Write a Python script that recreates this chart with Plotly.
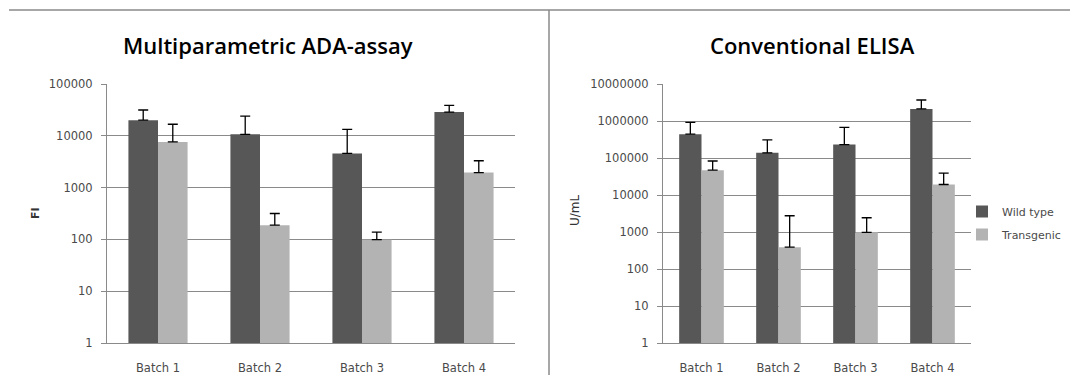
import plotly.graph_objects as go

categories = ["Batch 1", "Batch 2", "Batch 3", "Batch 4"]

# Multiparametric ADA-assay (FI)
ada_wild = [20000, 10700, 4560, 28700]
ada_wild_err = [11500, 13300, 8700, 10000]
ada_trans = [7600, 188, 99, 1950]
ada_trans_err = [9100, 128, 39, 1350]

# Conventional ELISA (U/mL)
elisa_wild = [440000, 138000, 231000, 2120000]
elisa_wild_err = [480000, 172000, 444000, 1580000]
elisa_trans = [47000, 390, 980, 19200]
elisa_trans_err = [36000, 2360, 1450, 19800]

series_names = ["Wild type", "Transgenic"]
left_ticks = [1, 10, 100, 1000, 10000, 100000]
right_ticks = [1, 10, 100, 1000, 10000, 100000, 1000000, 10000000]

DARK = "#575757"
LIGHT = "#b3b3b3"
GRID = "#8a8a8a"
TICKFONT = dict(family="DejaVu Sans", size=11.5, color="#4a4a4a")

OFF = 8
W, H = 1078 - 2 * OFF, 383 - 2 * OFF
def px(x):
    return (x - OFF) / W
def py(y):
    return 1 - (y - OFF) / H

fig = go.Figure()

def add_bars(xaxis, yaxis, wild, wild_err, trans, trans_err, show):
    for name, vals, errs, col in [(series_names[0], wild, wild_err, DARK),
                                  (series_names[1], trans, trans_err, LIGHT)]:
        fig.add_trace(go.Bar(
            x=categories, y=vals, name=name, marker=dict(color=col, line=dict(width=0)),
            error_y=dict(type="data", array=errs, arrayminus=[0]*len(errs), symmetric=False,
                         color="black", thickness=1.3, width=5),
            xaxis=xaxis, yaxis=yaxis, showlegend=show, legendgroup=name,
            offsetgroup=name,
        ))

add_bars("x", "y", ada_wild, ada_wild_err, ada_trans, ada_trans_err, False)
add_bars("x2", "y2", elisa_wild, elisa_wild_err, elisa_trans, elisa_trans_err, True)

ydom = [py(343), py(84)]
common_x = dict(showline=True, linecolor=GRID, linewidth=1, ticks="", showgrid=False,
                tickfont=TICKFONT, ticklabelstandoff=14, fixedrange=True, automargin=False)
common_y = dict(type="log", showline=True, linecolor=GRID, linewidth=1, ticks="outside",
                ticklen=5, tickcolor=GRID, showgrid=True, gridcolor=GRID, gridwidth=1,
                tickfont=TICKFONT, tickformat="d", zeroline=False, ticklabelstandoff=6,
                automargin=False)

fig.update_layout(
    width=W, height=H, margin=dict(l=0, r=0, t=0, b=0, pad=0, autoexpand=False),
    paper_bgcolor="white", plot_bgcolor="white",
    barmode="group", bargap=0.42, bargroupgap=0,
    xaxis=dict(domain=[px(107), px(515)], anchor="y", **common_x),
    yaxis=dict(domain=ydom, anchor="x", range=[0, 5], tickvals=left_ticks,
               ticktext=[str(v) for v in left_ticks], **common_y),
    xaxis2=dict(domain=[px(663), px(971)], anchor="y2", **common_x),
    yaxis2=dict(domain=ydom, anchor="x2", range=[0, 7], tickvals=right_ticks,
                ticktext=[str(v) for v in right_ticks], **common_y),
    legend=dict(x=px(962), y=py(197), xanchor="left", yanchor="top",
                font=dict(family="DejaVu Sans", size=11, color="#4a4a4a"),
                itemwidth=30, tracegroupgap=4, bgcolor="rgba(0,0,0,0)"),
    showlegend=True,
    shapes=[
        dict(type="line", xref="paper", yref="paper", x0=px(9), x1=1, y0=py(10), y1=py(10),
             line=dict(color="#8a8a8a", width=1.5)),
        dict(type="line", xref="paper", yref="paper", x0=px(549), x1=px(549), y0=0, y1=py(10),
             line=dict(color="#8a8a8a", width=1.5)),
    ],
    annotations=[
        dict(text="Multiparametric ADA-assay", x=px(268), y=py(45), xref="paper", yref="paper",
             showarrow=False, font=dict(family="Open Sans", size=22, color="black", weight=600),
             xanchor="center", yanchor="middle"),
        dict(text="Conventional ELISA", x=px(812), y=py(45), xref="paper", yref="paper",
             showarrow=False, font=dict(family="Open Sans", size=22, color="black", weight=600),
             xanchor="center", yanchor="middle"),
        dict(text="FI", x=px(35), y=py(213), xref="paper", yref="paper", textangle=-90,
             showarrow=False, font=dict(family="DejaVu Sans", size=11, color="#333333", weight="bold"),
             xanchor="center", yanchor="middle"),
        dict(text="U/mL", x=px(575), y=py(210), xref="paper", yref="paper", textangle=-90,
             showarrow=False, font=dict(family="DejaVu Sans", size=12, color="#333333"),
             xanchor="center", yanchor="middle"),
    ],
)

fig.write_html("out.html")
